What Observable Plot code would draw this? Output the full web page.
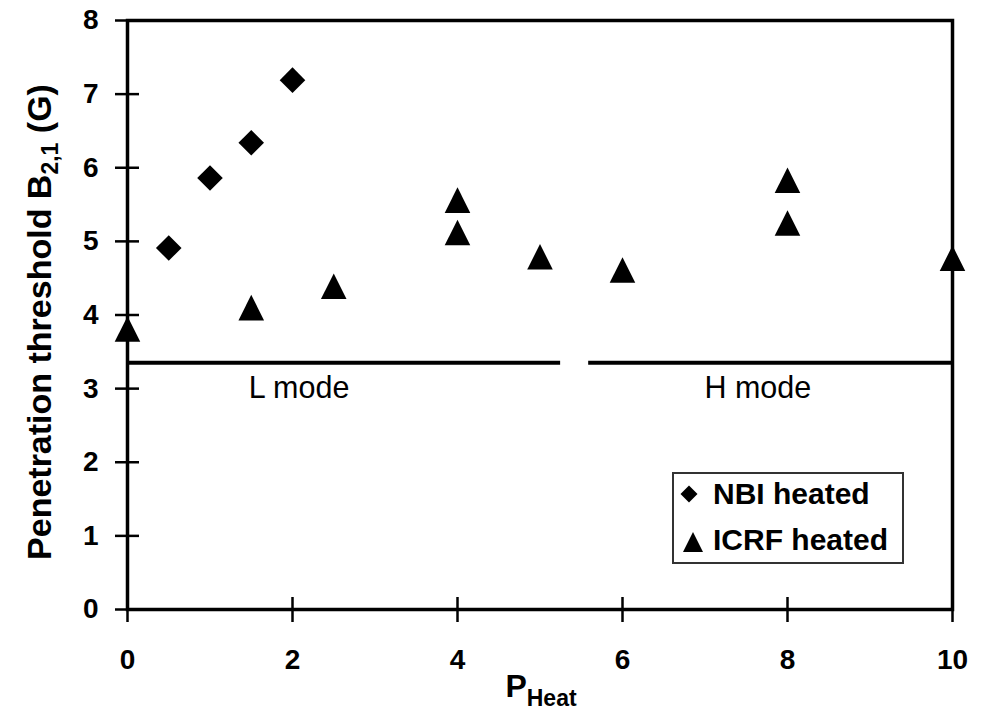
<!DOCTYPE html>
<html>
<head>
<meta charset="utf-8">
<script src="https://cdn.jsdelivr.net/npm/d3@7"></script>
<script src="https://cdn.jsdelivr.net/npm/@observablehq/plot@0.6"></script>
<style>
  body { margin: 0; background: #fff; }
  #chart svg { font-family: "Liberation Sans", Arial, sans-serif; }
</style>
</head>
<body>
<div id="chart"></div>
<script>
// ---- data ----
const nbiPower = [0.5, 1, 1.5, 2];
const nbiB = [4.91, 5.86, 6.34, 7.19];
const icrfPower = [0, 1.5, 2.5, 4, 4, 5, 6, 8, 8, 10];
const icrfB = [3.81, 4.10, 4.39, 5.56, 5.12, 4.79, 4.61, 5.83, 5.25, 4.77];
const modeNames = ["L mode", "H mode"];
const modeStart = [0, 5.59];
const modeEnd = [5.25, 10];
const modeLevel = 3.35;
const modeLabelX = [2.08, 7.64];
const modeLabelY = 3.0;
const xTicks = [0, 2, 4, 6, 8, 10];
const yTicks = [0, 1, 2, 3, 4, 5, 6, 7, 8];
const legendLabels = ["NBI heated", "ICRF heated"];

const nbi = nbiPower.map((p, i) => ({p, b: nbiB[i]}));
const icrf = icrfPower.map((p, i) => ({p, b: icrfB[i]}));
const modes = modeNames.map((name, i) => ({name, x1: modeStart[i], x2: modeEnd[i], lx: modeLabelX[i]}));

// ---- custom symbols ----
const diamondSym = {draw(ctx, size) { const d = Math.sqrt(size / 2); ctx.moveTo(0, -d); ctx.lineTo(d, 0); ctx.lineTo(0, d); ctx.lineTo(-d, 0); ctx.closePath(); }};
const triSym = {draw(ctx, size) { const h = Math.sqrt(2 * size); ctx.moveTo(0, -h / 2); ctx.lineTo(h / 2, h / 2); ctx.lineTo(-h / 2, h / 2); ctx.closePath(); }};

const W = 985, H = 710;
const mL = 127, mR = 33, mT = 20, mB = 101;
const innerW = W - mL - mR, innerH = H - mT - mB;
const tickIn = 12, tickOut = 12;

const chart = Plot.plot({
  width: W,
  height: H,
  marginLeft: mL,
  marginRight: mR,
  marginTop: mT,
  marginBottom: mB,
  style: {background: "#fff", color: "#000", overflow: "visible"},
  x: {domain: [0, 10], label: null},
  y: {domain: [0, 8], label: null},
  marks: [
    Plot.ruleY(modes, {y: modeLevel, x1: "x1", x2: "x2", stroke: "#000", strokeWidth: 4}),
    Plot.text(modes, {x: "lx", y: modeLabelY, text: "name", fontSize: 30.5, fill: "#000"}),
    Plot.frame({stroke: "#000", strokeWidth: 3.5}),
    Plot.tickY(yTicks, {y: d => d, insetRight: innerW - tickIn, stroke: "#000", strokeWidth: 2.5}),
    Plot.tickX(xTicks, {x: d => d, insetTop: innerH - tickIn, stroke: "#000", strokeWidth: 2.5}),
    Plot.axisY(yTicks, {tickSize: tickOut, tickPadding: 29 - tickOut, strokeWidth: 2.5, fontSize: 28, fontWeight: "bold", tickFormat: d => String(d), label: null}),
    Plot.axisX(xTicks, {tickSize: tickOut + 1, tickPadding: 40 - tickOut - 1, strokeWidth: 2.5, fontSize: 28, fontWeight: "bold", tickFormat: d => String(d), label: null}),
    Plot.dot(nbi, {x: "p", y: "b", symbol: diamondSym, r: 10.2, fill: "#000", stroke: "none"}),
    Plot.dot(icrf, {x: "p", y: "b", symbol: triSym, r: 10.2, fill: "#000", stroke: "none"})
  ]
});

document.getElementById("chart").appendChild(chart);
const svg = d3.select(chart);

// y-axis title
const yt = svg.append("text")
  .attr("transform", "translate(51,322) rotate(-90)")
  .attr("text-anchor", "middle")
  .attr("font-size", 34)
  .attr("font-weight", "bold")
  .attr("fill", "#000");
yt.append("tspan").text("Penetration threshold B");
yt.append("tspan").attr("font-size", 23).attr("dy", 7).text("2,1");
yt.append("tspan").attr("dy", -7).text(" (G)");

// x-axis title
const xt = svg.append("text")
  .attr("x", 541).attr("y", 697)
  .attr("text-anchor", "middle")
  .attr("font-size", 32)
  .attr("font-weight", "bold")
  .attr("fill", "#000");
xt.append("tspan").text("P");
xt.append("tspan").attr("font-size", 23).attr("dy", 9).text("Heat");

// legend
const lg = svg.append("g").attr("text-anchor", "start");
lg.append("rect").attr("x", 673).attr("y", 473).attr("width", 230).attr("height", 90)
  .attr("fill", "#fff").attr("stroke", "#333").attr("stroke-width", 2);
lg.append("path").attr("transform", "translate(689,494)")
  .attr("d", d3.symbol().type(diamondSym).size(2 * 8.5 * 8.5)()).attr("fill", "#000");
lg.append("path").attr("transform", "translate(693,542)")
  .attr("d", d3.symbol().type(triSym).size(20 * 20 / 2)()).attr("fill", "#000");
legendLabels.forEach((t, i) => {
  lg.append("text").attr("x", 713).attr("y", 504 + i * 46)
    .attr("text-anchor", "start")
    .attr("font-size", 30).attr("font-weight", "bold").attr("fill", "#000").text(t);
});
</script>
</body>
</html>
